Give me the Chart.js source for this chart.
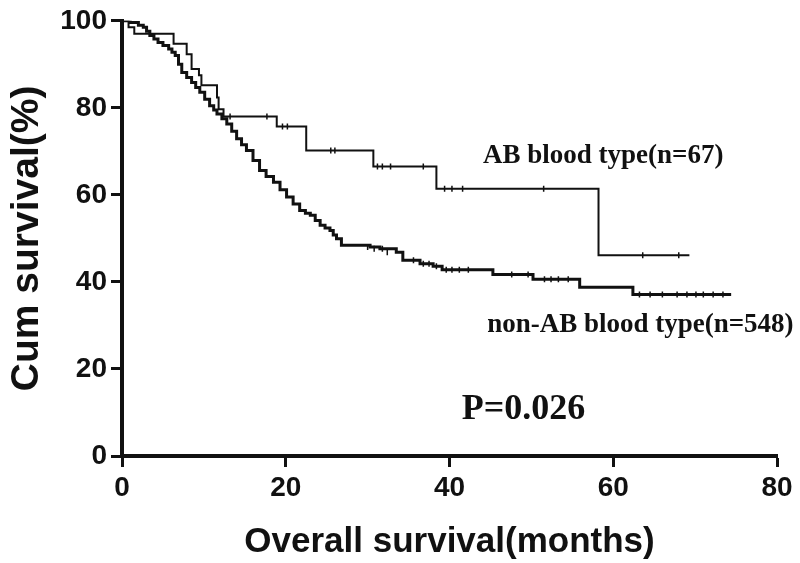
<!DOCTYPE html>
<html>
<head>
<meta charset="utf-8">
<script src="https://cdn.jsdelivr.net/npm/chart.js@4"></script>
<style>
  html, body { margin: 0; padding: 0; background: #fff; }
  #wrap { width: 800px; height: 563px; }
</style>
</head>
<body>
<div id="wrap"><canvas id="kmChart" width="800" height="563"></canvas></div>
<script>
// Kaplan-Meier curves (months, cumulative survival %)
const abTime = [0, 0.8, 1.5, 6.3, 7.9, 8.5, 9.4, 9.7, 11.6, 11.8, 12.4, 18.9, 22.5, 30.7, 38.4, 58.2, 69.3];
const abSurv = [100, 98.5, 97.0, 94.7, 92.3, 88.9, 87.5, 85.2, 82.4, 79.7, 78.0, 75.7, 70.2, 66.5, 61.4, 46.1, 46.1];

const nonAbTime = [0, 1.0, 2.0, 2.6, 3.0, 3.4, 3.9, 4.4, 5.0, 5.7, 6.1, 6.5, 6.9, 7.3, 7.9, 8.5, 9.0, 9.5,
  10.1, 10.7, 11.2, 11.6, 12.2, 12.8, 13.4, 14.0, 14.6, 15.2, 16.0, 16.8, 17.6, 18.5, 19.3, 20.1, 20.9,
  21.7, 22.4, 23.0, 23.6, 24.2, 24.8, 25.4, 25.8, 26.2, 26.8, 30.3, 31.5, 33.5, 34.3, 36.4, 38.0, 39.1,
  45.3, 50.2, 55.9, 62.4, 74.4];
const nonAbSurv = [100, 99.6, 99.0, 98.5, 97.6, 96.6, 95.8, 95.0, 94.3, 93.5, 92.8, 92.0, 90.0, 88.1, 87.0, 85.8, 84.7, 83.6,
  82.0, 80.5, 79.5, 78.6, 77.5, 76.3, 74.6, 72.9, 71.5, 70.2, 67.9, 65.6, 64.2, 62.9, 61.2, 59.5, 57.9,
  56.4, 55.8, 55.3, 54.1, 53.0, 52.4, 51.8, 50.8, 49.9, 48.4, 48.0, 47.6, 46.8, 45.0, 44.2, 43.6, 42.8,
  41.7, 40.6, 38.8, 37.1, 37.1];

// censored observations (tick marks)
const abCensTime = [13.2, 17.7, 19.6, 20.2, 25.5, 26.0, 31.2, 31.8, 32.8, 36.8, 39.4, 40.3, 41.6, 51.5, 63.6, 68.0];
const abCensSurv = [78.0, 78.0, 75.7, 75.7, 70.2, 70.2, 66.5, 66.5, 66.5, 66.5, 61.4, 61.4, 61.4, 61.4, 46.1, 46.1];

const nonAbCensTime = [30.0, 30.8, 31.8, 32.4, 35.6, 36.8, 37.5, 38.4, 39.6, 40.3, 41.2, 42.3, 47.6, 49.6,
  51.6, 52.4, 53.3, 54.5, 63.2, 64.5, 66.0, 67.8, 69.0, 70.1, 71.0, 72.2, 73.4];
const nonAbCensSurv = [48.0, 47.6, 47.6, 46.8, 45.0, 44.2, 44.2, 43.6, 42.8, 42.8, 42.8, 42.8, 41.7, 41.7,
  40.6, 40.6, 40.6, 40.6, 37.1, 37.1, 37.1, 37.1, 37.1, 37.1, 37.1, 37.1, 37.1];

const xTicks = [0, 20, 40, 60, 80];
const yTicks = [0, 20, 40, 60, 80, 100];

// annotation texts, anchored in data coordinates
const notes = [
  { text: 'AB blood type(n=67)', x: 44.1, y: 67.4, size: 27 },
  { text: 'non-AB blood type(n=548)', x: 44.6, y: 28.4, size: 27 },
  { text: 'P=0.026', x: 41.5, y: 8.6, size: 36 }
];

function pts(xs, ys) {
  return xs.map((x, i) => ({ x: x, y: ys[i] }));
}

const notesPlugin = {
  id: 'notes',
  afterDatasetsDraw(chart) {
    const { ctx, scales } = chart;
    ctx.save();
    ctx.fillStyle = '#111';
    ctx.textBaseline = 'alphabetic';
    ctx.textAlign = 'left';
    notes.forEach(n => {
      ctx.font = 'bold ' + n.size + 'px "Liberation Serif", "Times New Roman", serif';
      ctx.fillText(n.text, scales.x.getPixelForValue(n.x), scales.y.getPixelForValue(n.y));
    });
    ctx.restore();
  }
};

const tickFont = { family: '"Liberation Sans", Arial, sans-serif', size: 28, weight: 'bold' };

new Chart(document.getElementById('kmChart'), {
  type: 'scatter',
  data: {
    datasets: [
      {
        label: 'AB blood type(n=67)',
        data: pts(abTime, abSurv),
        showLine: true,
        stepped: true,
        borderColor: '#111',
        borderWidth: 2,
        pointRadius: 0
      },
      {
        label: 'non-AB blood type(n=548)',
        data: pts(nonAbTime, nonAbSurv),
        showLine: true,
        stepped: true,
        borderColor: '#111',
        borderWidth: 3,
        pointRadius: 0
      },
      {
        label: 'AB censored',
        data: pts(abCensTime, abCensSurv),
        pointStyle: 'line',
        rotation: 90,
        pointRadius: 3,
        borderColor: '#111',
        borderWidth: 1.5
      },
      {
        label: 'non-AB censored',
        data: pts(nonAbCensTime, nonAbCensSurv),
        pointStyle: 'line',
        rotation: 90,
        pointRadius: 3,
        borderColor: '#111',
        borderWidth: 1.5
      }
    ]
  },
  options: {
    responsive: false,
    animation: false,
    layout: { padding: { top: 20, right: 23, left: 4, bottom: 0 } },
    plugins: {
      legend: { display: false },
      tooltip: { enabled: false }
    },
    scales: {
      x: {
        type: 'linear',
        min: 0,
        max: 80,
        afterBuildTicks: axis => { axis.ticks = xTicks.map(v => ({ value: v })); },
        afterFit: axis => { axis.height = 107; },
        border: { color: '#111', width: 4 },
        grid: { display: true, drawOnChartArea: false, drawTicks: true, tickLength: 11, tickWidth: 3, color: '#111' },
        ticks: { color: '#111', font: tickFont, padding: 4, maxRotation: 0 },
        title: { display: true, text: 'Overall survival(months)', color: '#111',
          font: { family: '"Liberation Sans", Arial, sans-serif', size: 35, weight: 'bold' }, padding: { top: 4, bottom: 0 } }
      },
      y: {
        type: 'linear',
        min: 0,
        max: 100,
        afterBuildTicks: axis => { axis.ticks = yTicks.map(v => ({ value: v })); },
        afterFit: axis => { axis.width = 118; },
        border: { color: '#111', width: 4 },
        grid: { display: true, drawOnChartArea: false, drawTicks: true, tickLength: 11, tickWidth: 3, color: '#111' },
        ticks: { color: '#111', font: tickFont, padding: 4 },
        title: { display: true, text: 'Cum survival(%)', color: '#111',
          font: { family: '"Liberation Sans", Arial, sans-serif', size: 39, weight: 'bold' }, padding: { top: 0, bottom: 0 } }
      }
    }
  },
  plugins: [notesPlugin]
});
</script>
</body>
</html>
